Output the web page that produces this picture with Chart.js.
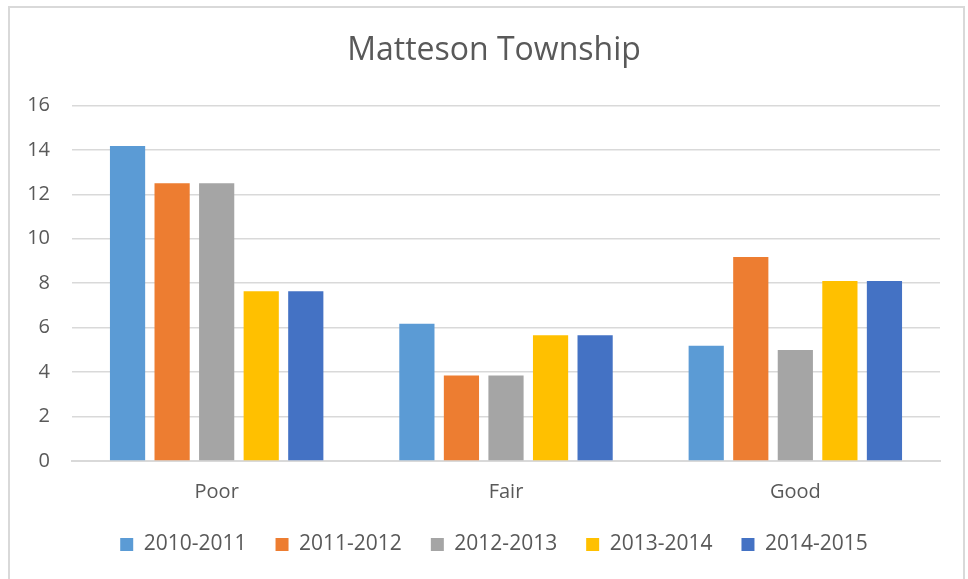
<!DOCTYPE html>
<html>
<head>
<meta charset="utf-8">
<script src="https://cdn.jsdelivr.net/npm/chart.js@4"></script>
<style>
	body { margin: 0; background: #fff; }
	#wrap {
		position: absolute;
		left: 8px;
		top: 6px;
		width: 957px;
		height: 580px;
		border: 2px solid #d9d9d9;
		box-sizing: border-box;
	}
</style>
</head>
<body>
<div id="wrap"><canvas id="townshipChart"></canvas></div>
<script>
const categories = ['Poor', 'Fair', 'Good'];
const seriesNames = ['2010-2011', '2011-2012', '2012-2013', '2013-2014', '2014-2015'];
const values2010 = [14.17, 6.18, 5.18];
const values2011 = [12.5, 3.85, 9.18];
const values2012 = [12.5, 3.85, 4.99];
const values2013 = [7.64, 5.66, 8.1];
const values2014 = [7.64, 5.66, 8.1];
const colors = ['#5b9bd5', '#ed7d31', '#a5a5a5', '#ffc000', '#4472c4'];

const allValues = [values2010, values2011, values2012, values2013, values2014];

function drawChart() {
	const ctx = document.getElementById('townshipChart').getContext('2d');
	new Chart(ctx, {
		type: 'bar',
		data: {
			labels: categories,
			datasets: seriesNames.map((name, i) => ({
				label: name,
				data: allValues[i],
				backgroundColor: colors[i],
				categoryPercentage: 0.77,
				barPercentage: 0.79,
			})),
		},
		options: {
			responsive: true,
			maintainAspectRatio: false,
			animation: false,
			layout: {
				padding: { left: 15, right: 0, top: 12, bottom: 19 },
			},
			plugins: {
				title: {
					display: true,
					text: 'Matteson Township',
					color: '#595959',
					font: { family: 'Open Sans', size: 32, weight: 'normal' },
					padding: { top: 12, bottom: 35 },
				},
				legend: {
					position: 'bottom',
					labels: {
						color: '#595959',
						font: { family: 'Open Sans', size: 21 },
						boxWidth: 13,
						boxHeight: 13,
						padding: 29,
					},
				},
				tooltip: { enabled: false },
			},
			scales: {
				x: {
					grid: { display: false },
					border: { color: '#d9d9d9', width: 2 },
					afterFit: (scale) => { scale.height = scale.height - 10; },
					ticks: {
						color: '#595959',
						font: { family: 'Open Sans', size: 20 },
						padding: 11,
					},
				},
				y: {
					min: 0,
					max: 16,
					afterFit: (scale) => { scale.width = 47; },
					ticks: {
						stepSize: 2,
						color: '#595959',
						font: { family: 'Open Sans', size: 20 },
						padding: 22,
					},
					grid: { color: '#d9d9d9', lineWidth: 1.5, drawTicks: false },
					border: { display: false },
				},
				// empty right axis, only keeps the plot off the right edge
				y2: {
					position: 'right',
					afterFit: (scale) => { scale.width = 23; },
					grid: { display: false },
					border: { display: false },
					ticks: { display: false },
				},
			},
		},
	});
}

document.addEventListener('DOMContentLoaded', drawChart);
</script>
</body>
</html>
